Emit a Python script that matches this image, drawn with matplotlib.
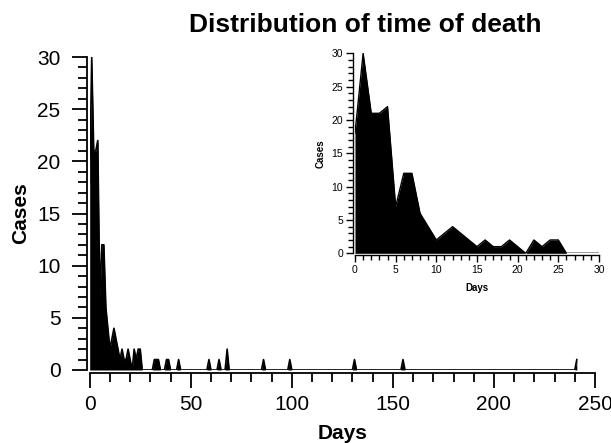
import numpy as np
import matplotlib
matplotlib.use("Agg")
from matplotlib import pyplot as plt
from matplotlib.ticker import MultipleLocator

plt.rcParams['font.family'] = ['Liberation Sans', 'DejaVu Sans']

# cases per day, days 0..30
early_days = list(range(0, 31))
early_cases = [18, 30, 21, 21, 22, 7, 12, 12, 6, 4, 2, 3, 4, 3, 2, 1,
               2, 1, 1, 2, 1, 0, 2, 1, 2, 2, 0, 0, 0, 0, 0]

# sporadic late deaths (day, cases)
late_days = [32, 33, 34, 38, 39, 44, 59, 64, 68, 86, 99, 131, 155, 241]
late_cases = [1, 1, 1, 1, 1, 1, 1, 1, 2, 1, 1, 1, 1, 1]

# build full daily series 0..241
days = np.arange(0, 242)
cases = np.zeros(len(days))
cases[:len(early_cases)] = early_cases
for d, c in zip(late_days, late_cases):
    cases[d] = c


def style_axes(ax, major_len, minor_len, width, offset):
    for s in ['top', 'right']:
        ax.spines[s].set_visible(False)
    for s in ['left', 'bottom']:
        ax.spines[s].set_linewidth(width)
        ax.spines[s].set_position(('outward', offset))
    ax.tick_params(which='major', length=major_len, width=width, direction='out')
    ax.tick_params(which='minor', length=minor_len, width=width, direction='out')


fig = plt.figure(figsize=(6.11, 4.43), dpi=100)

# main chart
ax = fig.add_axes([0.1468, 0.1648, 0.827, 0.7065])
ax.fill_between(days, cases, 0, color='black', linewidth=0)
ax.plot(days, cases, color='black', linewidth=1.2)
ax.set_xlim(0, 250)
ax.set_ylim(0, 30)
ax.xaxis.set_major_locator(MultipleLocator(50))
ax.xaxis.set_minor_locator(MultipleLocator(10))
ax.yaxis.set_major_locator(MultipleLocator(5))
ax.yaxis.set_minor_locator(MultipleLocator(1))
style_axes(ax, 11, 6.5, 1.3, 2)
ax.tick_params(labelsize=15)
ax.tick_params(axis='x', pad=5)
ax.tick_params(axis='y', pad=8)
ax.set_xlabel('Days', fontsize=15, fontweight='bold', labelpad=7)
ax.set_ylabel('Cases', fontsize=15, fontweight='bold', labelpad=5)

fig.text(0.598, 0.9285, 'Distribution of time of death', ha='center', va='baseline',
         fontsize=19, fontweight='bold')

# inset: first 30 days
ins = fig.add_axes([0.581, 0.4282, 0.3993, 0.4515])
ins.fill_between(early_days, early_cases, 0, color='black', linewidth=0)
ins.plot(early_days, early_cases, color='black', linewidth=1.0)
ins.set_xlim(0, 30)
ins.set_ylim(0, 30)
ins.xaxis.set_major_locator(MultipleLocator(5))
ins.xaxis.set_minor_locator(MultipleLocator(1))
ins.yaxis.set_major_locator(MultipleLocator(5))
ins.yaxis.set_minor_locator(MultipleLocator(1))
style_axes(ins, 5, 3.5, 1.0, 1.5)
ins.tick_params(labelsize=7.5, pad=2)
ins.set_xlabel('Days', fontsize=7, fontweight='bold', labelpad=6)
ins.set_ylabel('Cases', fontsize=7, fontweight='bold', labelpad=4)

fig.savefig('out.png', dpi=100)
